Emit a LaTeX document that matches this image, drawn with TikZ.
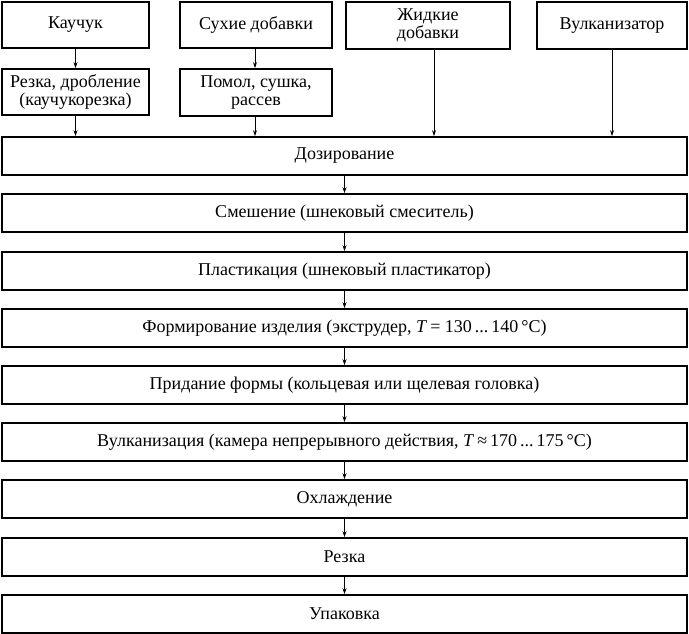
\documentclass[tikz,border=0pt]{standalone}
\usepackage{fontspec}
\setmainfont{Liberation Serif}
\usetikzlibrary{arrows.meta,calc}
\begin{document}
\begin{tikzpicture}[x=1pt,y=-1pt,
  box/.style={draw, line width=1.6pt, inner sep=1pt, align=center,
    font=\fontsize{18}{18}\selectfont},
  top/.style={box, minimum height=46pt},
  stage/.style={box, minimum width=685pt, minimum height=38pt},
  arr/.style={line width=0.8pt, -{Stealth[length=6pt,width=4pt]}}]
\useasboundingbox (0,0) rectangle (689,634);
% top row
\node[top, minimum width=147pt] (kau) at (75.5,25) {Каучук};
\node[top, minimum width=152pt] (suh) at (256,25) {Сухие добавки};
\node[top, minimum width=164pt, minimum height=47pt] (zhid) at (428,25.5) {Жидкие\\добавки};
\node[top, minimum width=150pt, minimum height=47pt] (vul) at (612,25.5) {Вулканизатор};
% second row
\node[top, minimum width=147pt] (rez1) at (75.5,92) {Резка, дробление\\(каучукорезка)};
\node[top, minimum width=152pt, minimum height=47pt] (pom) at (256,92.5) {Помол, сушка,\\рассев};
% stages
\node[stage] (doz) at (344.5,156) {Дозирование};
\node[stage] (sme) at (344.5,213) {Смешение (шнековый смеситель)};
\node[stage] (pla) at (344.5,271) {Пластикация (шнековый пластикатор)};
\node[stage] (for) at (344.5,328) {Формирование изделия (экструдер, \textit{T}\,= 130\,...\,140\,°C)};
\node[stage] (pri) at (344.5,385) {Придание формы (кольцевая или щелевая головка)};
\node[stage] (vlk) at (344.5,442) {Вулканизация (камера непрерывного действия, \textit{T}\,≈\,170\,...\,175\,°C)};
\node[stage] (ohl) at (344.5,499) {Охлаждение};
\node[stage] (rez) at (344.5,557) {Резка};
\node[stage] (upa) at (344.5,614) {Упаковка};
% arrows top
\draw[arr] (kau.south) -- (rez1.north);
\draw[arr] ([xshift=-1pt]suh.south) -- ([xshift=-1pt]pom.north);
\draw[arr] (rez1.south) -- (rez1.south |- doz.north);
\draw[arr] ([xshift=-1pt]pom.south) -- ([xshift=-1pt]pom.south |- doz.north);
\draw[arr] ([xshift=6pt]zhid.south) -- ([xshift=6pt]zhid.south |- doz.north);
\draw[arr] (vul.south) -- (vul.south |- doz.north);
% chain arrows
\draw[arr] (doz.south) -- (sme.north);
\draw[arr] (sme.south) -- (pla.north);
\draw[arr] (pla.south) -- (for.north);
\draw[arr] (for.south) -- (pri.north);
\draw[arr] (pri.south) -- (vlk.north);
\draw[arr] (vlk.south) -- (ohl.north);
\draw[arr] (ohl.south) -- (rez.north);
\draw[arr] (rez.south) -- (upa.north);
\end{tikzpicture}
\end{document}
